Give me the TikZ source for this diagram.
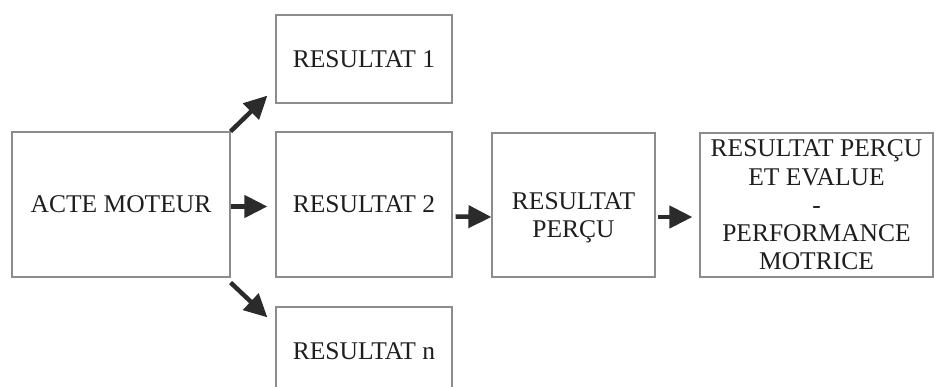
\documentclass[tikz,border=0pt]{standalone}
\usepackage{fontspec}
\setmainfont{Liberation Serif}
\usetikzlibrary{arrows.meta}
\definecolor{boxgray}{HTML}{8C8C8C}
\definecolor{arrowdark}{HTML}{2B2B2B}
\definecolor{textdark}{HTML}{1E1E1E}

\begin{document}
\begin{tikzpicture}[x=1pt,y=-1pt,
  box/.style={draw=boxgray,line width=1.2pt,rectangle,inner sep=2pt,
    align=center,text=textdark,font=\fontsize{25.5}{28.3}\selectfont},
  arr/.style={draw=arrowdark,line width=4.5pt,
    -{Triangle[length=23pt,width=22pt]}}]
\useasboundingbox (0,0) rectangle (935,387);
\node (acte) at (121,204.5)
  [box,minimum width=218pt,minimum height=145pt]
  {ACTE MOTEUR};
\node (r1) at (364,59)
  [box,minimum width=176pt,minimum height=88pt]
  {RESULTAT 1};
\node (r2) at (364,204.5)
  [box,minimum width=176pt,minimum height=145pt]
  {RESULTAT 2};
\node (rn) at (364,351)
  [box,minimum width=176pt,minimum height=88pt]
  {RESULTAT n};
\node (rp) at (573.5,205)
  [box,minimum width=163pt,minimum height=144pt,
   label={[box,draw=none,yshift=-13pt]center:{RESULTAT\\PERÇU}}]
  {};
\node (ev) at (816.5,205)
  [box,minimum width=233pt,minimum height=144pt]
  {RESULTAT PERÇU\\ET EVALUE\\-\\PERFORMANCE\\MOTRICE};
\draw[arr] (acte.north east) -- ([xshift=-8pt,yshift=8pt]r1.south west);
\draw[arr] ([yshift=-2pt]acte.east) -- ([xshift=-8pt,yshift=-2pt]r2.west);
\draw[arr] ([yshift=-5pt]acte.south east) -- ([xshift=-8pt,yshift=-11pt]rn.north west);
\draw[arr] ([xshift=3pt,yshift=-12pt]r2.east) -- ([yshift=-12pt]rp.west);
\draw[arr] ([xshift=2pt,yshift=-12pt]rp.east) -- ([xshift=-7pt,yshift=-12pt]ev.west);
\end{tikzpicture}
\end{document}
